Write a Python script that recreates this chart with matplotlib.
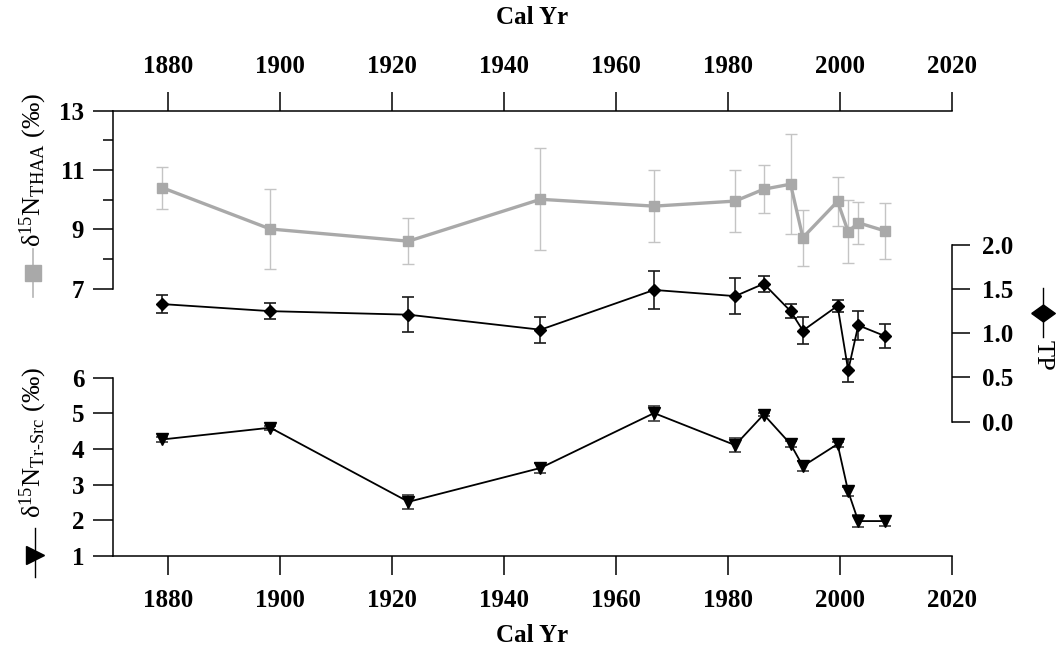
import matplotlib
matplotlib.use('Agg')
import matplotlib.pyplot as plt
from matplotlib.lines import Line2D

plt.rcParams['font.family'] = ['Liberation Serif', 'DejaVu Serif']
plt.rcParams['mathtext.fontset'] = 'custom'
plt.rcParams['mathtext.rm'] = 'Liberation Serif'
plt.rcParams['mathtext.it'] = 'Liberation Serif:italic'
plt.rcParams['mathtext.bf'] = 'Liberation Serif:bold'

# sample ages (cal yr) and values
years = [1878.9, 1898.2, 1922.9, 1946.5, 1966.8, 1981.3, 1986.4,
         1991.2, 1993.4, 1999.6, 2001.5, 2003.3, 2008.0]
thaa = [10.40, 9.01, 8.60, 10.01, 9.78, 9.95, 10.35, 10.52, 8.72, 9.94, 8.92, 9.22, 8.95]
thaa_err = [0.71, 1.36, 0.77, 1.72, 1.22, 1.03, 0.80, 1.69, 0.94, 0.82, 1.07, 0.71, 0.94]
tp = [1.33, 1.25, 1.21, 1.04, 1.49, 1.42, 1.56, 1.25, 1.03, 1.31, 0.58, 1.09, 0.97]
tp_err = [0.10, 0.09, 0.20, 0.145, 0.21, 0.205, 0.09, 0.08, 0.15, 0.07, 0.13, 0.165, 0.135]
trsrc = [4.27, 4.60, 2.52, 3.47, 5.01, 4.11, 4.97, 4.14, 3.52, 4.14, 2.81, 1.98, 1.98]
trsrc_err = [0.08, 0.06, 0.20, 0.14, 0.21, 0.20, 0.05, 0.08, 0.14, 0.07, 0.13, 0.16, 0.14]

x_ticks = [1880, 1900, 1920, 1940, 1960, 1980, 2000, 2020]
thaa_ticks = [7, 9, 11, 13]
tp_ticks = [0.0, 0.5, 1.0, 1.5, 2.0]
trsrc_ticks = [1, 2, 3, 4, 5, 6]

W, H = 1057, 653
fig = plt.figure(figsize=(W / 100, H / 100), dpi=100)

L, R, T, B = 112.5 / W, 951.7 / W, 1 - 110.5 / H, 1 - 556 / H
rect = [L, B, R - L, T - B]
TICK_FS = 18
LAB_FS = 19
LW = 1.1

# base axes: x axes top/bottom and THAA on the left (upper part)
ax = fig.add_axes(rect, label='thaa')
ax.set_xlim(1870, 2020)
ax.set_ylim(-2, 13)
ax.spines['right'].set_visible(False)
ax.spines['left'].set_bounds(7, 13)
for s in ax.spines.values():
    s.set_linewidth(LW)
ax.set_xticks(x_ticks, labels=[str(t) for t in x_ticks], fontsize=TICK_FS, fontweight='bold')
ax.tick_params(axis='x', which='both', top=True, labeltop=True, bottom=True, labelbottom=True,
               direction='out', length=13.7, width=LW, pad=10)
ax.set_yticks(thaa_ticks, labels=[str(t) for t in thaa_ticks], fontsize=TICK_FS, fontweight='bold')
ax.set_yticks([8, 10, 12], minor=True)
ax.tick_params(axis='y', which='major', length=14.4, width=LW, pad=6)
ax.tick_params(axis='y', which='minor', length=7.2, width=LW)
ax.errorbar(years, thaa, yerr=thaa_err, color='#a9a9a9', lw=2.4, marker='s', ms=6.5,
            ecolor='#c4c4c4', elinewidth=1.0, capsize=4.5, capthick=1.0, zorder=2)

# Tr-Src on the left (lower part)
ax3 = fig.add_axes(rect, label='trsrc')
ax3.patch.set_visible(False)
ax3.set_xlim(1870, 2020)
ax3.set_ylim(1, 13.5)
for k in ['top', 'right', 'bottom']:
    ax3.spines[k].set_visible(False)
ax3.spines['left'].set_bounds(1, 6)
ax3.spines['left'].set_linewidth(LW)
ax3.set_xticks([])
ax3.set_yticks(trsrc_ticks, labels=[str(t) for t in trsrc_ticks], fontsize=TICK_FS, fontweight='bold')
ax3.tick_params(axis='y', length=14.4, width=LW, pad=6)
ax3.errorbar(years, trsrc, yerr=trsrc_err, color='black', lw=1.3, marker='v', ms=8,
             ecolor='#3a3a3a', elinewidth=1.2, capsize=4.5, capthick=1.2)

# TP on the right
ax2 = fig.add_axes(rect, label='tp')
ax2.patch.set_visible(False)
ax2.set_xlim(1870, 2020)
ax2.set_ylim(-1.52, 3.52)
for k in ['top', 'left', 'bottom']:
    ax2.spines[k].set_visible(False)
ax2.spines['right'].set_bounds(0, 2)
ax2.spines['right'].set_linewidth(LW)
ax2.set_xticks([])
ax2.yaxis.tick_right()
ax2.set_yticks(tp_ticks, labels=['%.1f' % t for t in tp_ticks], fontsize=TICK_FS, fontweight='bold')
ax2.tick_params(axis='y', length=13, width=LW, pad=9)
ax2.errorbar(years, tp, yerr=tp_err, color='black', lw=1.3, marker='D', ms=6.5,
             ecolor='#1a1a1a', elinewidth=1.2, capsize=4.5, capthick=1.2)

# axis titles
fig.text(532 / W, 1 - 17 / H, 'Cal Yr', ha='center', va='center', fontsize=TICK_FS, fontweight='bold')
fig.text(532 / W, 1 - 636 / H, 'Cal Yr', ha='center', va='center', fontsize=TICK_FS, fontweight='bold')

fig.text(33 / W, 1 - 170 / H, 'δ$^{15}$N$_{\\mathrm{THAA}}$ (‰)', rotation=90,
         ha='center', va='center', fontsize=LAB_FS)
fig.text(33 / W, 1 - 442 / H, 'δ$^{15}$N$_{\\text{Tr-Src}}$ (‰)', rotation=90,
         ha='center', va='center', fontsize=LAB_FS)
fig.text(1043 / W, 1 - 355 / H, 'TP', rotation=270, ha='center', va='center', fontsize=LAB_FS)

# rotated legend keys next to the axis titles
tf = fig.transFigure
fig.add_artist(Line2D([33 / W, 33 / W], [1 - 249 / H, 1 - 297 / H], color='#b5b5b5', lw=1.2, transform=tf))
fig.add_artist(Line2D([33 / W], [1 - 273 / H], marker='s', ms=12, color='#a9a9a9', lw=0, transform=tf))
fig.add_artist(Line2D([35 / W, 35 / W], [1 - 528 / H, 1 - 577 / H], color='black', lw=1.0, transform=tf))
fig.add_artist(Line2D([35 / W], [1 - 555 / H], marker='>', ms=13, color='black', lw=0, transform=tf))
fig.add_artist(Line2D([1043 / W, 1043 / W], [1 - 288 / H, 1 - 337 / H], color='black', lw=1.0, transform=tf))
fig.add_artist(Line2D([1043 / W], [1 - 313 / H], marker=[(-1, 0), (0, 0.72), (1, 0), (0, -0.72), (-1, 0)],
                      ms=17, color='black', lw=0, transform=tf))

fig.savefig('out.png', dpi=100)
